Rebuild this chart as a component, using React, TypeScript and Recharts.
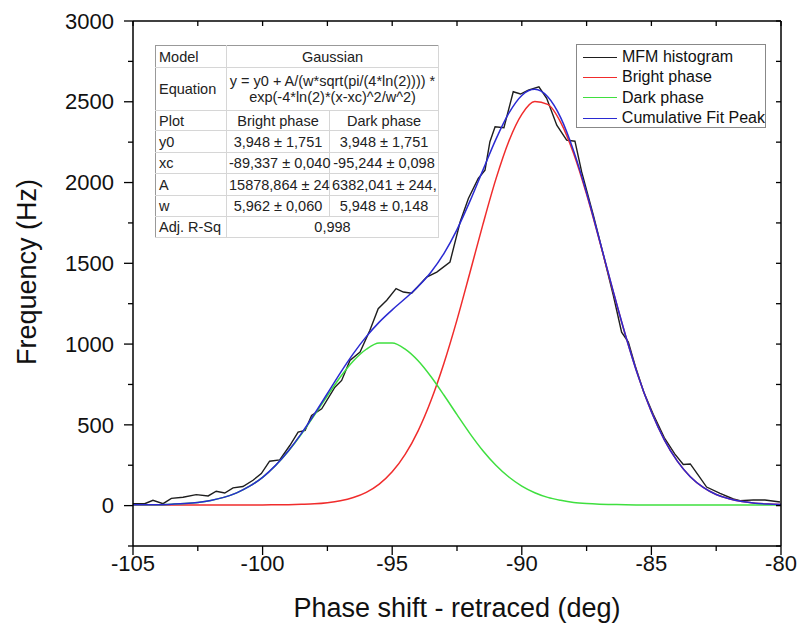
import React from 'react';
import { LineChart, Line, XAxis, YAxis, Legend } from 'recharts';

const FONT = 'Arial, "Liberation Sans", Helvetica, sans-serif';

// MFM histogram trace (phase in deg, counts)
const histX = [
  -105, -104.55, -104.23, -103.84, -103.52, -103.07, -102.56, -102.1, -101.79, -101.46,
  -101.14, -100.76, -100.37, -100.05, -99.73, -99.34, -98.95, -98.63, -98.36, -98.11,
  -97.72, -97.21, -96.95, -96.63, -96.24, -95.86, -95.54, -95.21, -94.85, -94.57,
  -94.25, -93.67, -93.28, -92.77, -92.38, -92.06, -91.68, -91.42, -91.23, -91.03,
  -90.69, -90.33, -90.05, -89.75, -89.34, -89.04, -88.65, -88.27, -87.95, -87.69,
  -87.24, -86.85, -86.47, -86.15, -85.89, -85.63, -85.3, -84.93, -84.5, -84.1,
  -83.77, -83.5, -83.2, -82.87, -82.35, -81.84, -81.58, -81.07, -80.62, -80.04,
];
const histY = [
  12, 12, 33, 12, 45, 52, 68, 60, 89, 78,
  110, 118, 157, 198, 275, 283, 372, 455, 465, 558,
  599, 733, 775, 899, 950, 1085, 1219, 1271, 1343, 1322,
  1315, 1415, 1446, 1508, 1756, 1901, 2025, 2077, 2253, 2345,
  2339, 2562, 2548, 2572, 2593, 2521, 2355, 2262, 2256, 2066,
  1798, 1550, 1302, 1074, 1012, 868, 705, 565, 420, 320,
  255, 258, 190, 115, 76, 41, 31, 35, 35, 22,
];

// fitted curves, every 0.5 deg
const fitX = [
  -105, -104.5, -104, -103.5, -103, -102.5, -102, -101.5, -101, -100.5,
  -100, -99.5, -99, -98.5, -98, -97.5, -97, -96.5, -96, -95.5,
  -95, -94.5, -94, -93.5, -93, -92.5, -92, -91.5, -91, -90.5,
  -90, -89.5, -89, -88.5, -88, -87.5, -87, -86.5, -86, -85.5,
  -85, -84.5, -84, -83.5, -83, -82.5, -82, -81.5, -81, -80.5, -80,
];
const brightY = [
  4, 4, 4, 4, 4, 4, 4, 4, 4, 4,
  4, 5, 6, 8, 11, 18, 30, 50, 82, 133,
  209, 317, 463, 652, 883, 1150, 1443, 1741, 2021, 2256,
  2422, 2501, 2484, 2373, 2180, 1927, 1638, 1340, 1054, 797,
  581, 407, 275, 179, 113, 69, 42, 25, 15, 10, 7,
];
const darkY = [
  5, 5, 6, 9, 13, 20, 32, 51, 79, 120,
  175, 248, 338, 443, 560, 680, 796, 895, 968, 1007,
  1007, 969, 897, 798, 683, 563, 446, 340, 250, 177,
  121, 80, 51, 33, 20, 13, 9, 7, 5, 4,
  4, 4, 4, 4, 4, 4, 4, 4, 4, 4, 4,
];
const cumulativeY = [
  5, 5, 6, 9, 13, 20, 32, 51, 79, 120,
  175, 249, 340, 447, 567, 694, 822, 941, 1046, 1136,
  1212, 1282, 1356, 1446, 1562, 1709, 1885, 2077, 2267, 2429,
  2539, 2577, 2531, 2402, 2196, 1936, 1643, 1343, 1055, 797,
  581, 407, 275, 179, 113, 69, 42, 25, 15, 10, 7,
];

const seriesNames = ['MFM histogram', 'Bright phase', 'Dark phase', 'Cumulative Fit Peak'];
const seriesColors = ['#1e1e1e', '#f02c2c', '#3fdf3f', '#2a2ad2'];

const xTicks = [-105, -102.5, -100, -97.5, -95, -92.5, -90, -87.5, -85, -82.5, -80];
const xTickLabels = [-105, -100, -95, -90, -85, -80];
const yTicks = [-250, 0, 250, 500, 750, 1000, 1250, 1500, 1750, 2000, 2250, 2500, 2750, 3000];
const yTickLabels = [0, 500, 1000, 1500, 2000, 2500, 3000];

const xDomain = [-105, -80];
const yDomain = [-250, 3000];

const histData = histX.map((x, i) => ({ x, y: histY[i] }));
const fitData = fitX.map((x, i) => ({
  x,
  bright: brightY[i],
  dark: darkY[i],
  cumulative: cumulativeY[i],
}));

const BottomTick = ({ x, y, payload }: any) => {
  const major = xTickLabels.includes(payload.value);
  return (
    <g>
      <line x1={x} x2={x} y1={y} y2={y + (major ? 9 : 5)} stroke="#000" strokeWidth={1.3} />
      {major && (
        <text x={x} y={y + 25} textAnchor="middle" fontSize={22} fontFamily={FONT} fill="#111">
          {payload.value}
        </text>
      )}
    </g>
  );
};

const LeftTick = ({ x, y, payload }: any) => {
  const major = yTickLabels.includes(payload.value);
  return (
    <g>
      <line x1={x} x2={x - (major ? 9 : 5)} y1={y} y2={y} stroke="#000" strokeWidth={1.3} />
      {major && (
        <text x={x - 19} y={y} dy="0.35em" textAnchor="end" fontSize={22} fontFamily={FONT} fill="#111">
          {payload.value}
        </text>
      )}
    </g>
  );
};

// inward ticks on the top and right frame
const TopTick = ({ x, y }: any) => (
  <line x1={x} x2={x} y1={y} y2={y + 5} stroke="#000" strokeWidth={1.3} />
);
const RightTick = ({ x, y }: any) => (
  <line x1={x} x2={x - 5} y1={y} y2={y} stroke="#000" strokeWidth={1.3} />
);

const LegendBox = () => (
  <div
    style={{
      width: 190,
      height: 84,
      boxSizing: 'border-box',
      border: '1px solid #888',
      background: '#fff',
      padding: '2px 0 0 6px',
      fontFamily: FONT,
      fontSize: 16,
      color: '#111',
    }}
  >
    {seriesNames.map((name, i) => (
      <div key={name} style={{ display: 'flex', alignItems: 'center', height: 20.3 }}>
        <span
          style={{ display: 'inline-block', width: 34, borderTop: `1.5px solid ${seriesColors[i]}`, marginRight: 5 }}
        />
        <span style={{ whiteSpace: 'nowrap' }}>{name}</span>
      </div>
    ))}
  </div>
);

const cell: React.CSSProperties = {
  borderRight: '1px solid #d6d6d6',
  borderBottom: '1px solid #d6d6d6',
  padding: '0 2px',
  textAlign: 'center',
  whiteSpace: 'nowrap',
  overflow: 'visible',
};
const first: React.CSSProperties = { ...cell, textAlign: 'left', paddingLeft: 3 };

const FitTable = () => (
  <table
    style={{
      position: 'absolute',
      left: 155,
      top: 45,
      width: 283,
      borderCollapse: 'collapse',
      tableLayout: 'fixed',
      border: '1px solid #999',
      background: '#fff',
      fontFamily: FONT,
      fontSize: 14.5,
      color: '#222',
      lineHeight: '16px',
    }}
  >
    <colgroup>
      <col style={{ width: 71 }} />
      <col style={{ width: 103 }} />
      <col style={{ width: 109 }} />
    </colgroup>
    <tbody>
      <tr style={{ height: 22 }}>
        <td style={first}>Model</td>
        <td style={cell} colSpan={2}>Gaussian</td>
      </tr>
      <tr style={{ height: 43 }}>
        <td style={first}>Equation</td>
        <td style={cell} colSpan={2}>
          y = y0 + A/(w*sqrt(pi/(4*ln(2)))) *<br />exp(-4*ln(2)*(x-xc)^2/w^2)
        </td>
      </tr>
      <tr style={{ height: 20 }}>
        <td style={first}>Plot</td>
        <td style={cell}>Bright phase</td>
        <td style={cell}>Dark phase</td>
      </tr>
      <tr style={{ height: 22 }}>
        <td style={first}>y0</td>
        <td style={cell}>3,948 ± 1,751</td>
        <td style={cell}>3,948 ± 1,751</td>
      </tr>
      <tr style={{ height: 21 }}>
        <td style={first}>xc</td>
        <td style={cell}>-89,337 ± 0,040</td>
        <td style={cell}>-95,244 ± 0,098</td>
      </tr>
      <tr style={{ height: 22 }}>
        <td style={first}>A</td>
        <td style={cell}>15878,864 ± 24</td>
        <td style={cell}>6382,041 ± 244,</td>
      </tr>
      <tr style={{ height: 21 }}>
        <td style={first}>w</td>
        <td style={cell}>5,962 ± 0,060</td>
        <td style={cell}>5,948 ± 0,148</td>
      </tr>
      <tr style={{ height: 21 }}>
        <td style={first}>Adj. R-Sq</td>
        <td style={cell} colSpan={2}>0,998</td>
      </tr>
    </tbody>
  </table>
);

const App = () => {
  return (
    <div style={{ position: 'absolute', left: 0, top: 0, width: 797, height: 629, background: '#fff' }}>
      <LineChart width={797} height={629} margin={{ top: 20, right: 15, left: 0, bottom: 0 }}>
        <XAxis
          dataKey="x"
          type="number"
          domain={xDomain}
          allowDataOverflow
          ticks={xTicks}
          tick={BottomTick}
          tickLine={false}
          tickSize={0}
          tickMargin={0}
          height={83}
          axisLine={{ stroke: '#000', strokeWidth: 1.5 }}
          label={() => (
            <text x={457} y={608} textAnchor="middle" dominantBaseline="central" fontSize={27} fontFamily={FONT} fill="#111">
              Phase shift - retraced (deg)
            </text>
          )}
        />
        {/* twin axis on top, same scale, frame only */}
        <XAxis
          xAxisId="top"
          orientation="top"
          dataKey="x"
          type="number"
          domain={xDomain}
          allowDataOverflow
          ticks={xTicks}
          interval={0}
          height={1}
          tick={TopTick}
          tickLine={false}
          tickSize={0}
          tickMargin={0}
          axisLine={{ stroke: '#000', strokeWidth: 1.5 }}
        />
        <YAxis
          type="number"
          domain={yDomain}
          allowDataOverflow
          ticks={yTicks}
          tick={LeftTick}
          tickLine={false}
          tickSize={0}
          tickMargin={0}
          width={133}
          axisLine={{ stroke: '#000', strokeWidth: 1.5 }}
          label={() => (
            <text
              x={27}
              y={272}
              transform="rotate(-90 27 272)"
              textAnchor="middle"
              dominantBaseline="central"
              fontSize={27}
              fontFamily={FONT}
              fill="#111"
            >
              Frequency (Hz)
            </text>
          )}
        />
        {/* twin axis on the right, same scale, frame only */}
        <YAxis
          yAxisId="right"
          orientation="right"
          type="number"
          domain={yDomain}
          allowDataOverflow
          ticks={yTicks}
          interval={0}
          width={1}
          tick={RightTick}
          tickLine={false}
          tickSize={0}
          tickMargin={0}
          axisLine={{ stroke: '#000', strokeWidth: 1.5 }}
        />
        <Legend
          layout="vertical"
          align="center"
          verticalAlign="middle"
          wrapperStyle={{ top: 44, left: 576, width: 190, height: 84 }}
          content={LegendBox}
        />
        <Line
          data={histData}
          dataKey="y"
          name={seriesNames[0]}
          type="linear"
          stroke={seriesColors[0]}
          strokeWidth={1.4}
          dot={false}
          activeDot={false}
          isAnimationActive={false}
        />
        <Line
          data={fitData}
          dataKey="bright"
          name={seriesNames[1]}
          type="monotone"
          stroke={seriesColors[1]}
          strokeWidth={1.5}
          dot={false}
          activeDot={false}
          isAnimationActive={false}
        />
        <Line
          data={fitData}
          dataKey="dark"
          name={seriesNames[2]}
          yAxisId="right"
          type="monotone"
          stroke={seriesColors[2]}
          strokeWidth={1.5}
          dot={false}
          activeDot={false}
          isAnimationActive={false}
        />
        <Line
          data={fitData}
          dataKey="cumulative"
          name={seriesNames[3]}
          xAxisId="top"
          type="monotone"
          stroke={seriesColors[3]}
          strokeWidth={1.5}
          dot={false}
          activeDot={false}
          isAnimationActive={false}
        />
      </LineChart>
      <FitTable />
    </div>
  );
};

export default App;
